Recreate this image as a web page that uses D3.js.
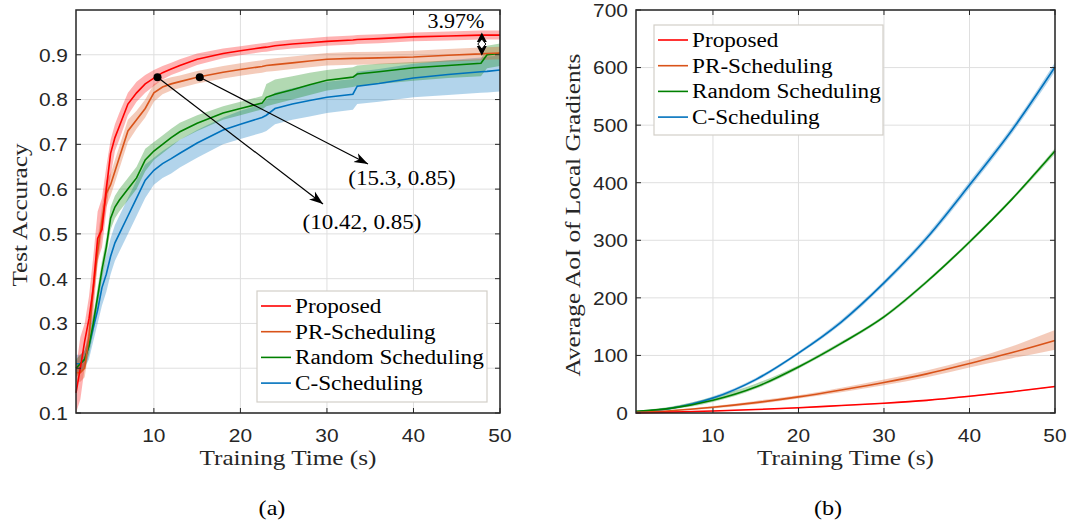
<!DOCTYPE html>
<html lang="en">
<head>
<meta charset="utf-8">
<script src="https://d3js.org/d3.v7.min.js"></script>
<style>
  body { margin: 0; background: #fff; }
  svg { display: block; }
</style>
</head>
<body>
<script>
// ---- panel (a): test accuracy vs training time ----
var timeA = [1, 1.5, 2, 2.5, 3, 3.5, 4, 4.5, 5, 5.5, 6, 7, 8, 9, 10, 11, 12, 13, 15, 18, 20, 22.5, 23, 24, 26, 28, 30, 33, 33.5, 36, 40, 44, 47.8, 48.5, 50];

var proposedAcc   = [0.145,0.2,0.26,0.31,0.38,0.49,0.51,0.6,0.68,0.715,0.74,0.79,0.815,0.835,0.848,0.86,0.868,0.876,0.89,0.903,0.909,0.916,0.917,0.92,0.924,0.927,0.93,0.933,0.934,0.936,0.94,0.942,0.944,0.944,0.944];
var proposedAccLo = [0.10,0.13,0.20,0.27,0.32,0.44,0.47,0.55,0.63,0.685,0.71,0.765,0.795,0.815,0.83,0.845,0.855,0.862,0.877,0.892,0.899,0.906,0.907,0.91,0.914,0.917,0.92,0.923,0.924,0.926,0.93,0.932,0.934,0.934,0.934];
var proposedAccHi = [0.20,0.27,0.30,0.36,0.45,0.55,0.58,0.65,0.71,0.745,0.77,0.815,0.84,0.855,0.866,0.875,0.882,0.89,0.903,0.914,0.919,0.926,0.927,0.93,0.934,0.937,0.94,0.943,0.944,0.946,0.95,0.952,0.954,0.954,0.954];

var prAcc   = [0.19,0.19,0.2,0.27,0.38,0.46,0.53,0.59,0.61,0.64,0.67,0.73,0.755,0.78,0.815,0.828,0.835,0.84,0.85,0.861,0.867,0.874,0.876,0.878,0.882,0.886,0.89,0.892,0.892,0.893,0.895,0.899,0.902,0.903,0.904];
var prAccLo = [0.17,0.17,0.18,0.24,0.35,0.43,0.5,0.56,0.585,0.615,0.645,0.705,0.735,0.76,0.795,0.812,0.82,0.826,0.836,0.847,0.853,0.86,0.862,0.864,0.868,0.872,0.876,0.878,0.878,0.879,0.881,0.885,0.888,0.889,0.89];
var prAccHi = [0.21,0.21,0.23,0.3,0.41,0.49,0.56,0.62,0.635,0.665,0.695,0.755,0.775,0.8,0.835,0.844,0.85,0.854,0.864,0.875,0.881,0.888,0.89,0.892,0.896,0.9,0.904,0.906,0.906,0.907,0.909,0.913,0.916,0.917,0.918];

var randAcc   = [0.2,0.21,0.22,0.25,0.3,0.36,0.42,0.47,0.535,0.56,0.575,0.6,0.625,0.665,0.685,0.7,0.715,0.728,0.747,0.77,0.78,0.792,0.805,0.812,0.822,0.833,0.843,0.85,0.857,0.862,0.871,0.876,0.881,0.9,0.903];
var randAccLo = [0.18,0.19,0.2,0.23,0.28,0.34,0.4,0.45,0.51,0.535,0.55,0.575,0.6,0.64,0.665,0.68,0.695,0.71,0.73,0.755,0.765,0.778,0.785,0.79,0.8,0.81,0.82,0.828,0.83,0.835,0.842,0.848,0.852,0.87,0.875];
var randAccHi = [0.22,0.23,0.24,0.27,0.32,0.38,0.44,0.49,0.56,0.585,0.6,0.625,0.65,0.69,0.705,0.72,0.735,0.748,0.765,0.785,0.795,0.808,0.835,0.845,0.852,0.86,0.866,0.872,0.876,0.88,0.884,0.887,0.89,0.92,0.925];

var cAcc   = [0.21,0.21,0.22,0.25,0.29,0.33,0.38,0.41,0.45,0.48,0.5,0.54,0.58,0.62,0.642,0.657,0.668,0.68,0.703,0.732,0.745,0.76,0.765,0.78,0.79,0.798,0.805,0.812,0.83,0.836,0.848,0.856,0.862,0.863,0.866];
var cAccLo = [0.19,0.19,0.2,0.22,0.26,0.3,0.34,0.37,0.41,0.44,0.46,0.5,0.54,0.58,0.61,0.625,0.635,0.648,0.67,0.7,0.712,0.726,0.73,0.745,0.755,0.762,0.77,0.777,0.79,0.795,0.805,0.81,0.815,0.816,0.818];
var cAccHi = [0.23,0.23,0.24,0.28,0.32,0.36,0.41,0.45,0.49,0.52,0.54,0.58,0.62,0.655,0.67,0.685,0.698,0.71,0.732,0.76,0.775,0.79,0.8,0.815,0.825,0.833,0.84,0.846,0.862,0.868,0.88,0.888,0.894,0.896,0.898];

// ---- panel (b): average AoI vs training time ----
var timeB = [1, 5, 10, 15, 20, 25, 30, 35, 40, 45, 50];
var proposedAoI   = [0, 1.5, 3.5, 6, 9, 13, 17, 22, 29, 37, 46];
var proposedAoILo = [0, 0.5, 2.5, 5, 8, 12, 16, 21, 28, 36, 45];
var proposedAoIHi = [1, 2.5, 4.5, 7, 10, 14, 18, 23, 30, 38, 47];
var prAoI   = [1, 4, 10, 18, 28, 40, 53, 68, 86, 105, 126];
var prAoILo = [0, 3, 8, 15, 25, 36, 48, 62, 79, 95, 110];
var prAoIHi = [2, 5, 12, 21, 31, 44, 58, 74, 93, 116, 144];
var randAoI   = [3, 8, 22, 45, 80, 121, 167, 228, 297, 372, 455];
var randAoILo = [2, 6, 19, 42, 77, 118, 164, 225, 294, 369, 450];
var randAoIHi = [4, 11, 28, 51, 83, 124, 170, 231, 300, 375, 460];
var cAoI   = [2, 8, 26, 58, 104, 158, 226, 304, 396, 492, 601];
var cAoILo = [1, 6, 23, 55, 101, 154, 222, 299, 390, 486, 593];
var cAoIHi = [3, 10, 29, 61, 107, 162, 230, 309, 402, 498, 609];

var names  = ["Proposed", "PR-Scheduling", "Random Scheduling", "C-Scheduling"];
var colors = ["#ff0000", "#d95319", "#008000", "#0072bd"];
var xTicks = [10, 20, 30, 40, 50];
var yTicksA = [0.1, 0.2, 0.3, 0.4, 0.5, 0.6, 0.7, 0.8, 0.9];
var yTicksB = [0, 100, 200, 300, 400, 500, 600, 700];

var serif = "'Liberation Serif', 'Times New Roman', serif";
var sans = "'Liberation Sans', Arial, sans-serif";

var svg = d3.select("body").append("svg")
    .attr("width", 1073)
    .attr("height", 526);
svg.append("rect").attr("width", 1073).attr("height", 526).attr("fill", "#fff");

var defs = svg.append("defs");
defs.append("marker")
    .attr("id", "head")
    .attr("viewBox", "-14 -6 16 12")
    .attr("markerWidth", 16).attr("markerHeight", 12)
    .attr("markerUnits", "userSpaceOnUse")
    .attr("refX", 0).attr("refY", 0)
    .attr("orient", "auto-start-reverse")
    .append("path")
    .attr("d", "M0,0 L-14,-5 L-10,0 L-14,5 Z")
    .attr("fill", "#000");

// stretch text a little, the source was set in a wider face
function widen(sel, f) {
  sel.each(function() {
    var w = this.getComputedTextLength();
    this.setAttribute("textLength", w * f);
    this.setAttribute("lengthAdjust", "spacingAndGlyphs");
  });
}

function drawPanel(opt) {
  var x = d3.scaleLinear().domain([1, 50]).range([opt.left, opt.right]);
  var y = d3.scaleLinear().domain(opt.yDomain).range([413, 10]);
  var g = svg.append("g");

  // grid
  g.selectAll(".gx").data(xTicks).enter().append("line")
      .attr("x1", d => x(d)).attr("x2", d => x(d))
      .attr("y1", y.range()[1]).attr("y2", y.range()[0])
      .attr("stroke", "#dfdfdf").attr("stroke-width", 1);
  g.selectAll(".gy").data(opt.yTicks).enter().append("line")
      .attr("x1", opt.left).attr("x2", opt.right)
      .attr("y1", d => y(d)).attr("y2", d => y(d))
      .attr("stroke", "#dfdfdf").attr("stroke-width", 1);

  var area = d3.area()
      .x(d => x(d.t)).y0(d => y(d.lo)).y1(d => y(d.hi))
      .curve(opt.curve);
  var line = d3.line()
      .x(d => x(d.t)).y(d => y(d.v))
      .curve(opt.curve);

  var series = opt.series.map(function(s, k) {
    return opt.time.map(function(t, i) {
      return { t: t, v: s[0][i], lo: s[1][i], hi: s[2][i] };
    });
  });

  // bands first, C-Scheduling at the back
  [3, 2, 1, 0].forEach(function(k) {
    g.append("path").datum(series[k])
        .attr("d", area)
        .attr("fill", colors[k]).attr("fill-opacity", 0.3);
  });
  [3, 2, 1, 0].forEach(function(k) {
    g.append("path").datum(series[k])
        .attr("d", line)
        .attr("fill", "none")
        .attr("stroke", colors[k]).attr("stroke-width", 1.6);
  });

  // box and inward ticks
  g.append("rect")
      .attr("x", opt.left).attr("y", 10)
      .attr("width", opt.right - opt.left).attr("height", 403)
      .attr("fill", "none").attr("stroke", "#262626").attr("stroke-width", 1.5);
  xTicks.forEach(function(d) {
    g.append("line").attr("x1", x(d)).attr("x2", x(d)).attr("y1", 413).attr("y2", 408)
        .attr("stroke", "#262626");
    g.append("line").attr("x1", x(d)).attr("x2", x(d)).attr("y1", 10).attr("y2", 15)
        .attr("stroke", "#262626");
  });
  opt.yTicks.forEach(function(d) {
    g.append("line").attr("x1", opt.left).attr("x2", opt.left + 5).attr("y1", y(d)).attr("y2", y(d))
        .attr("stroke", "#262626");
    g.append("line").attr("x1", opt.right).attr("x2", opt.right - 5).attr("y1", y(d)).attr("y2", y(d))
        .attr("stroke", "#262626");
  });

  var xl = g.selectAll(".xl").data(xTicks).enter().append("text")
      .attr("x", d => x(d)).attr("y", 442)
      .attr("text-anchor", "middle")
      .attr("font-family", sans).attr("font-size", 19).attr("fill", "#262626")
      .text(d => d);
  widen(xl, 1.1);
  var yl = g.selectAll(".yl").data(opt.yTicks).enter().append("text")
      .attr("x", opt.left - 8).attr("y", d => y(d)).attr("dy", "0.36em")
      .attr("text-anchor", "end")
      .attr("font-family", sans).attr("font-size", 19).attr("fill", "#262626")
      .text(d => opt.fmt(d));
  widen(yl, 1.1);

  var cx = (opt.left + opt.right) / 2;
  widen(g.append("text")
      .attr("x", cx).attr("y", 465)
      .attr("text-anchor", "middle")
      .attr("font-family", serif).attr("font-size", 21).attr("fill", "#262626")
      .text("Training Time (s)"), 1.2);
  widen(g.append("text")
      .attr("transform", "translate(" + opt.yLabelX + ",215) rotate(-90)")
      .attr("text-anchor", "middle")
      .attr("font-family", serif).attr("font-size", 21).attr("fill", "#262626")
      .text(opt.yLabel), 1.2);
  widen(g.append("text")
      .attr("x", opt.captionX).attr("y", 515)
      .attr("text-anchor", "middle")
      .attr("font-family", serif).attr("font-size", 21).attr("fill", "#000")
      .text(opt.caption), 1.15);

  // legend
  var lg = opt.legend;
  g.append("rect")
      .attr("x", lg.x).attr("y", lg.y).attr("width", lg.w).attr("height", lg.h)
      .attr("fill", "#fff").attr("stroke", "#d3cfc8").attr("stroke-width", 1.2);
  names.forEach(function(n, k) {
    var ry = lg.y + 15 + k * 25.7;
    g.append("line")
        .attr("x1", lg.x + 4).attr("x2", lg.x + 34).attr("y1", ry).attr("y2", ry)
        .attr("stroke", colors[k]).attr("stroke-width", 1.6);
    widen(g.append("text")
        .attr("x", lg.x + 38).attr("y", ry + 7)
        .attr("font-family", serif).attr("font-size", 20).attr("fill", "#000")
        .text(n), 1.16);
  });

  return { x: x, y: y, g: g };
}

var pa = drawPanel({
  left: 76, right: 500, yDomain: [0.1, 1.0], yTicks: yTicksA, fmt: d3.format(".1f"),
  time: timeA, curve: d3.curveLinear,
  series: [[proposedAcc, proposedAccLo, proposedAccHi], [prAcc, prAccLo, prAccHi],
           [randAcc, randAccLo, randAccHi], [cAcc, cAccLo, cAccHi]],
  yLabel: "Test Accuracy", yLabelX: 27, caption: "(a)", captionX: 272,
  legend: { x: 257, y: 291, w: 230, h: 111 }
});

var pb = drawPanel({
  left: 636, right: 1055, yDomain: [0, 700], yTicks: yTicksB, fmt: d3.format("d"),
  time: timeB, curve: d3.curveMonotoneX,
  series: [[proposedAoI, proposedAoILo, proposedAoIHi], [prAoI, prAoILo, prAoIHi],
           [randAoI, randAoILo, randAoIHi], [cAoI, cAoILo, cAoIHi]],
  yLabel: "Average AoI of Local Gradients", yLabelX: 580, caption: "(b)", captionX: 828,
  legend: { x: 654, y: 25, w: 229, h: 110 }
});

// annotations on panel (a)
var marks = [
  { t: 10.42, v: 0.85, tx: 323, ty: 204, label: "(10.42, 0.85)", lx: 362, ly: 229 },
  { t: 15.3, v: 0.85, tx: 368, ty: 164, label: "(15.3, 0.85)", lx: 402, ly: 185 }
];
marks.forEach(function(m) {
  pa.g.append("line")
      .attr("x1", pa.x(m.t)).attr("y1", pa.y(m.v))
      .attr("x2", m.tx).attr("y2", m.ty)
      .attr("stroke", "#000").attr("stroke-width", 1.2)
      .attr("marker-end", "url(#head)");
  pa.g.append("circle")
      .attr("cx", pa.x(m.t)).attr("cy", pa.y(m.v)).attr("r", 4)
      .attr("fill", "#000");
  widen(pa.g.append("text")
      .attr("x", m.lx).attr("y", m.ly).attr("text-anchor", "middle")
      .attr("font-family", serif).attr("font-size", 20).attr("fill", "#000")
      .text(m.label), 1.15);
});

// gap marker between Proposed and Random at the end
var gx = pa.x(47.9), gTop = pa.y(0.95), gBot = pa.y(0.898), gMid = (gTop + gBot) / 2;
pa.g.append("path")
    .attr("d", "M" + gx + "," + gTop + " L" + (gx - 5) + "," + (gMid - 2) + " L" + (gx + 5) + "," + (gMid - 2) + " Z")
    .attr("fill", "#000");
pa.g.append("path")
    .attr("d", "M" + gx + "," + gBot + " L" + (gx - 5) + "," + (gMid + 2) + " L" + (gx + 5) + "," + (gMid + 2) + " Z")
    .attr("fill", "#000");
pa.g.append("path")
    .attr("d", "M" + gx + "," + (gMid - 5) + " L" + (gx + 4) + "," + gMid + " L" + gx + "," + (gMid + 5) + " L" + (gx - 4) + "," + gMid + " Z")
    .attr("fill", "#fff").attr("stroke", "#000").attr("stroke-width", 1);
widen(pa.g.append("text")
    .attr("x", 456).attr("y", 28).attr("text-anchor", "middle")
    .attr("font-family", serif).attr("font-size", 20).attr("fill", "#000")
    .text("3.97%"), 1.1);
</script>
</body>
</html>
